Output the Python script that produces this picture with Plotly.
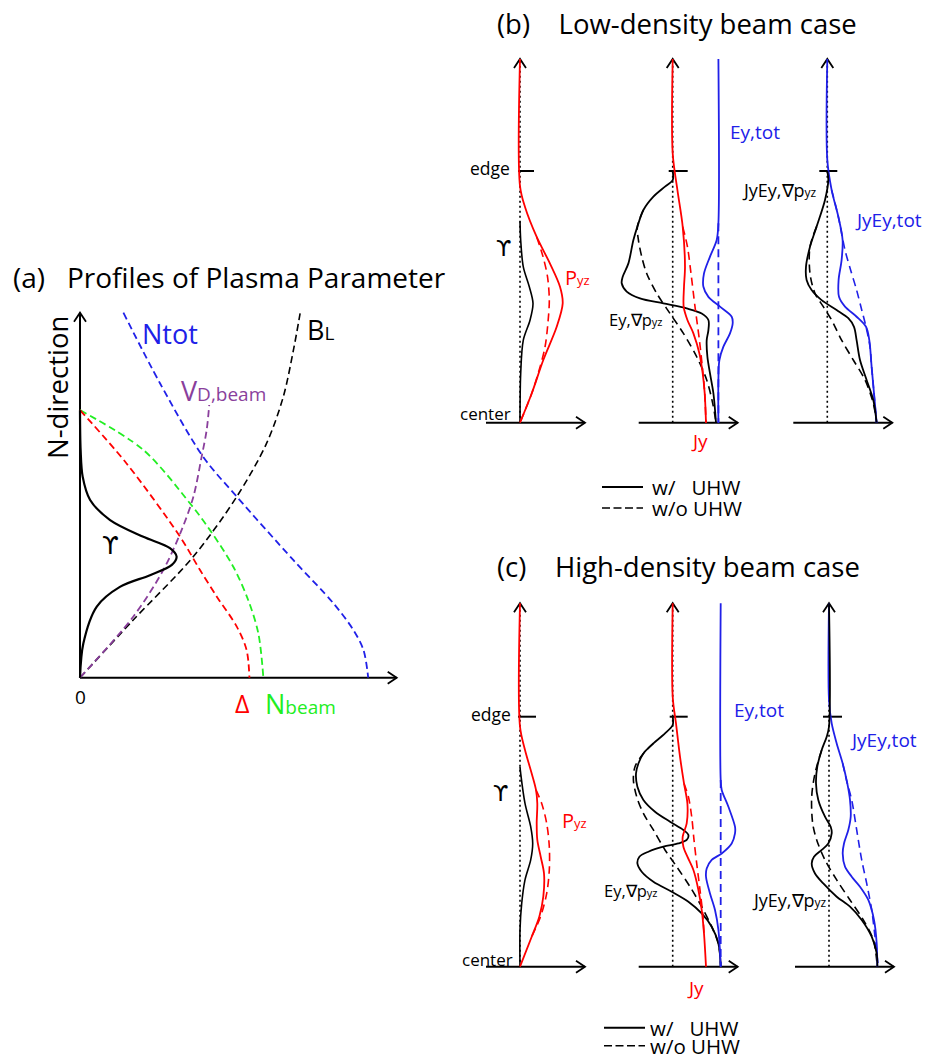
import plotly.graph_objects as go

W, H = 934, 1059
OFF = 8                      # page body margin of the browser
WF, HF = W - OFF, H - OFF    # figure size so that it fills the window
FONT = "Open Sans"
RED, BLUE, GREEN, PURPLE, BLACK = "#ff0000", "#2020e8", "#22ee22", "#8a3f9c", "#000000"

# ---------------- Panel (a): x = amplitude (arb., 0..100), y = N-direction (0..100)
A_NTOT_X = [13.7, 25.3, 38.9, 49.5, 67.4, 80.0, 86.3, 89.5, 91.0]
A_NTOT_Y = [100, 80.6, 60.5, 49.6, 32.2, 20.4, 13.1, 7.6, 0]
A_NBEAM_X = [0, 20.0, 34.7, 41.0, 48.4, 53.1, 56.3, 57.9]
A_NBEAM_Y = [73.3, 62.4, 47.8, 40.5, 30.4, 21.3, 12.2, 0]
A_DELTA_X = [0, 14.7, 31.6, 37.9, 43.2, 49.5, 52.6, 53.5]
A_DELTA_Y = [73.3, 58.7, 38.6, 29.5, 22.2, 14.0, 7.6, 0]
A_VD_X = [0, 16.8, 26.3, 32.1, 35.8, 38.4, 40.0, 40.8]
A_VD_Y = [0, 16.7, 29.5, 40.5, 49.6, 60.5, 67.9, 74.7]
A_BL_X = [0, 16.8, 35.8, 49.5, 58.9, 64.2, 67.4, 69.5]
A_BL_Y = [0, 15.8, 33.2, 49.6, 64.2, 77.0, 89.8, 99.8]
A_UPS_X = [0, 1.05, 5.3, 12.6, 22.1, 29.0, 30.5, 28.4, 20.0, 9.5, 3.2, 0.84, 0.2, 0]
A_UPS_Y = [0, 9.4, 19.5, 24.9, 28.1, 30.9, 33.2, 35.5, 38.6, 43.2, 48.7, 55.1, 62.4, 73.3]

# ---------------- Panels (b),(c): x = amplitude (arb.), y = position (0 = center, 1 = edge)
# (b) low-density, sub-panel 1
B1_PYZ_X = [0, 0, 5, 16.7, 30, 40, 42.7, 36.7, 23.3, 11.7, 0]
B1_PYZ_Y = [1.445, 0.94, 0.857, 0.738, 0.632, 0.54, 0.474, 0.381, 0.249, 0.116, 0]
B1_PYZ0_X = [16.7, 23, 27.5, 29.3, 28, 25, 18.5, 11.7, 0]
B1_PYZ0_Y = [0.738, 0.66, 0.58, 0.487, 0.4, 0.3, 0.2, 0.116, 0]
B1_UPS_X = [0, 0.7, 3.3, 9.3, 13, 10, 3.3, 0.7, 0]
B1_UPS_Y = [0.8, 0.725, 0.619, 0.54, 0.474, 0.407, 0.328, 0.196, 0]
# (b) sub-panel 2
B2_JY_X = [0, 0, 4.7, 10, 12.3, 11.3, 11, 14.7, 20.7, 26.7, 30, 32, 33.3]
B2_JY_Y = [1.445, 1.07, 0.925, 0.779, 0.62, 0.54, 0.46, 0.408, 0.355, 0.275, 0.196, 0.117, 0]
B2_JY0_X = [10, 14.7, 18.3, 22.3, 26.7, 30.3, 32, 33.3]
B2_JY0_Y = [0.779, 0.70, 0.593, 0.461, 0.328, 0.196, 0.117, 0]
B2_EP_X = [0, 0, -7.7, -19.3, -29.3, -35.3, -39.3, -44.3, -50, -51, -46, -32.7, -9.3, 14, 29, 35.7,
           35.7, 34, 34.7, 37.3, 40.7, 43.3]
B2_EP_Y = [1.0, 0.964, 0.938, 0.898, 0.845, 0.779, 0.726, 0.633, 0.58, 0.554, 0.521, 0.494, 0.474,
           0.454, 0.434, 0.408, 0.368, 0.328, 0.262, 0.196, 0.117, 0]
B2_EP0_X = [-29.3, -35.3, -34.3, -31, -26, -16, -2.7, 10.7, 24, 34, 40, 43.3]
B2_EP0_Y = [0.845, 0.779, 0.726, 0.66, 0.593, 0.514, 0.434, 0.355, 0.262, 0.17, 0.077, 0]
B2_ET_X = [45.7, 45.7, 44, 37.3, 31.3, 30.7, 35.7, 47.3, 59, 60, 57.3, 50.7, 46.7, 45.7, 45.7]
B2_ET_Y = [1.445, 0.792, 0.726, 0.66, 0.593, 0.54, 0.5, 0.461, 0.421, 0.395, 0.355, 0.302, 0.249, 0.17, 0]
B2_ET0_X = [45.7, 45.7]
B2_ET0_Y = [0.792, 0]
# (b) sub-panel 3
B3_JE_X = [0, 0, 4.3, 11, 15.3, 14.3, 11.3, 11.7, 17.7, 29.3, 38.7, 42, 44.3, 46.7, 49.3]
B3_JE_Y = [1.445, 1.044, 0.925, 0.819, 0.726, 0.646, 0.567, 0.5, 0.461, 0.421, 0.381, 0.328, 0.223, 0.117, 0]
B3_JE0_X = [4.3, 11, 17.7, 23.3, 29.3, 34.3, 38.7, 42.7, 44.3, 46.7, 49.3]
B3_JE0_Y = [0.925, 0.819, 0.686, 0.607, 0.527, 0.45, 0.381, 0.302, 0.223, 0.117, 0]
B3_JP_X = [0, 1, -2.3, -10.7, -17.3, -21.3, -20.7, -15.7, -5.7, 9.3, 21, 26.7, 29.3, 32.7, 39.3, 46, 49.3]
B3_JP_Y = [1.0, 0.964, 0.885, 0.779, 0.699, 0.62, 0.567, 0.527, 0.487, 0.448, 0.415, 0.381, 0.328,
           0.249, 0.17, 0.09, 0]
B3_JP0_X = [-10.7, -17.3, -17.3, -12.3, -4, 4.3, 14.3, 26, 37.7, 46, 49.3]
B3_JP0_Y = [0.779, 0.699, 0.593, 0.514, 0.461, 0.408, 0.328, 0.249, 0.17, 0.077, 0]

# (c) high-density, sub-panel 1
C1_PYZ_X = [0, 0, 5, 11.7, 16, 17.3, 16.7, 17.3, 20.7, 24, 23.3, 19.3, 11.7, 0]
C1_PYZ_Y = [1.454, 0.96, 0.867, 0.773, 0.707, 0.653, 0.573, 0.507, 0.44, 0.373, 0.28, 0.2, 0.12, 0]
C1_PYZ0_X = [16, 21.7, 26.7, 29.3, 29.3, 26.7, 20.5, 11.7]
C1_PYZ0_Y = [0.707, 0.653, 0.573, 0.48, 0.387, 0.293, 0.2, 0.12]
C1_UPS_X = [0, 0.7, 5, 10.7, 12.7, 10.7, 5, 1.7, 0, 0]
C1_UPS_Y = [0.8, 0.773, 0.653, 0.56, 0.493, 0.427, 0.347, 0.253, 0.147, 0]
# (c) sub-panel 2
C2_JY_X = [0, 0, 3.3, 7.3, 11.3, 14.7, 14, 10, 10.7, 14.7, 20.7, 25.7, 29, 31.3, 33.3]
C2_JY_Y = [1.454, 1.08, 0.973, 0.84, 0.733, 0.653, 0.573, 0.52, 0.48, 0.44, 0.387, 0.307, 0.227, 0.133, 0]
C2_JY0_X = [11.3, 15.7, 19, 21.3, 24, 27.3, 30, 31.3]
C2_JY0_Y = [0.733, 0.68, 0.6, 0.507, 0.413, 0.307, 0.213, 0.133]
C2_EP_X = [0, 0, -7.7, -19.3, -29.3, -34.3, -36.7, -35.3, -29.3, -17.7, -2.7, 10.7, 15.7, 14, 5.7,
           -9.3, -24.3, -33.3, -35.3, -31, -19.3, -1, 15.7, 29, 39, 45.7, 48]
C2_EP_Y = [1.0, 0.967, 0.933, 0.893, 0.853, 0.813, 0.773, 0.72, 0.667, 0.62, 0.58, 0.547, 0.527, 0.507,
           0.493, 0.48, 0.46, 0.44, 0.413, 0.38, 0.34, 0.3, 0.26, 0.213, 0.16, 0.093, 0]
C2_EP0_X = [-19.3, -29.3, -37.7, -39.3, -36, -29.3, -19.3, -7.7, 4, 17.3, 29, 39, 45.7, 48]
C2_EP0_Y = [0.893, 0.853, 0.8, 0.747, 0.68, 0.613, 0.547, 0.467, 0.4, 0.32, 0.24, 0.16, 0.093, 0]
C2_ET_X = [48, 48, 49, 55.7, 62.3, 62.3, 59, 49, 39, 34, 33.3, 37.3, 42.3, 45.7, 48]
C2_ET_Y = [1.454, 0.747, 0.707, 0.64, 0.56, 0.533, 0.493, 0.453, 0.427, 0.393, 0.36, 0.293, 0.227, 0.147, 0]
C2_ET0_X = [48, 48]
C2_ET0_Y = [0.747, 0]
# (c) sub-panel 3
C3_JE_X = [0, 0, 2.7, 7.7, 13.7, 18.3, 21, 21.7, 19.3, 15, 13.7, 16, 22.7, 31, 39.3, 45, 47.7, 48.3]
C3_JE_Y = [1.454, 1.067, 0.973, 0.893, 0.813, 0.733, 0.667, 0.6, 0.547, 0.493, 0.453, 0.4, 0.36, 0.32,
           0.267, 0.187, 0.093, 0]
C3_JE0_X = [13.7, 18.3, 22.7, 27.7, 32.7, 37.7, 42.7, 46, 49.3]
C3_JE0_Y = [0.813, 0.733, 0.667, 0.547, 0.427, 0.333, 0.227, 0.12, 0]
C3_JP_X = [0, 0, -2.3, -7.3, -11.7, -13, -10.7, -4, 1.7, 2.7, -0.7, -7.3, -15, -17.3, -14, -5.7, 7.7,
           21, 32.7, 42.7, 47.7, 48.3]
C3_JP_Y = [1.454, 0.96, 0.92, 0.867, 0.8, 0.733, 0.667, 0.6, 0.56, 0.533, 0.493, 0.467, 0.44, 0.413,
           0.373, 0.333, 0.28, 0.24, 0.187, 0.12, 0.053, 0]
C3_JP0_X = [-7.3, -14, -17.3, -16.3, -12.3, -4, 7.7, 21, 34.3, 44.3, 48.3]
C3_JP0_Y = [0.867, 0.773, 0.68, 0.573, 0.507, 0.427, 0.347, 0.267, 0.187, 0.107, 0]

fig = go.Figure()
shapes = []
annotations = []


def px(x):
    return (x - OFF) / WF


def py(y):
    return 1 - (y - OFF) / HF


def make_axes(n, ox, oy, sx, sy, box):
    x0, x1, y0, y1 = box
    key = "" if n == 1 else str(n)
    fig.update_layout(**{
        "xaxis" + key: dict(domain=[max(0, px(x0)), min(1, px(x1))], range=[(x0 - ox) / sx, (x1 - ox) / sx],
                            visible=False, fixedrange=True, anchor="y" + key),
        "yaxis" + key: dict(domain=[max(0, py(y1)), min(1, py(y0))], range=[(oy - y1) / sy, (oy - y0) / sy],
                            visible=False, fixedrange=True, anchor="x" + key),
    })
    return "x" + key, "y" + key, sx, sy


def curve(ax, xs, ys, color, width=1.8, dash="solid"):
    fig.add_trace(go.Scatter(x=xs, y=ys, mode="lines", xaxis=ax[0], yaxis=ax[1],
                             line=dict(color=color, width=width, dash=dash, shape="spline", smoothing=0.9),
                             hoverinfo="skip", showlegend=False))


def axes_frame(ax, xlo, xhi, ytop, tick=None, dotted=True):
    xr, yr, sx, sy = ax
    shapes.append(dict(type="line", xref=xr, yref=yr, x0=xlo, x1=xhi, y0=0, y1=0,
                       line=dict(color=BLACK, width=2), layer="below"))
    shapes.append(dict(type="path", xref=xr, yref=yr, layer="below",
                       path=f"M {xhi - 9 / sx},{6 / sy} L {xhi},0 L {xhi - 9 / sx},{-6 / sy}",
                       line=dict(color=BLACK, width=1.8)))
    shapes.append(dict(type="line", xref=xr, yref=yr, x0=0, x1=0, y0=0, y1=ytop, layer="below",
                       line=dict(color=BLACK, width=1.6 if dotted else 2,
                                 dash="2px,3px" if dotted else "solid")))
    shapes.append(dict(type="path", xref=xr, yref=yr, layer="below",
                       path=f"M {-6 / sx},{ytop - 9 / sy} L 0,{ytop} L {6 / sx},{ytop - 9 / sy}",
                       line=dict(color=BLACK, width=1.8)))
    if tick:
        shapes.append(dict(type="line", xref=xr, yref=yr, x0=tick[0], x1=tick[1], y0=1, y1=1,
                           line=dict(color=BLACK, width=2), layer="below"))


def text(x, y, s, size, color=BLACK, xanchor="center", angle=0, family=FONT):
    annotations.append(dict(x=px(x), y=py(y), xref="paper", yref="paper", text=s, showarrow=False,
                            xanchor=xanchor, yanchor="middle", textangle=angle,
                            font=dict(family=family, size=size, color=color)))


def small(s, size):
    return f"<span style='font-size:{size}px'>{s}</span>"


UPS_FONT = "DejaVu Sans"

# ---------------- Panel (a)
axA = make_axes(1, 80, 677.7, 3.167, 3.65, (30, 420, 300, 700))
axes_frame(axA, 0, 100, 100, dotted=False)
DA = "7px,4px"
curve(axA, A_NTOT_X, A_NTOT_Y, BLUE, 1.8, DA)
curve(axA, A_NBEAM_X, A_NBEAM_Y, GREEN, 1.8, DA)
curve(axA, A_DELTA_X, A_DELTA_Y, RED, 1.8, DA)
curve(axA, A_BL_X, A_BL_Y, BLACK, 1.6, DA)
curve(axA, A_VD_X, A_VD_Y, PURPLE, 1.8, DA)
curve(axA, A_UPS_X, A_UPS_Y, BLACK, 2.2)

text(11, 277, "(a)   Profiles of Plasma Parameter", 28, xanchor="left")
text(57, 388, "N-direction", 27.5, angle=-90)
text(170, 334, "Ntot", 27, BLUE)
text(320, 330, "B" + small("L", 19), 27)
text(223, 391, "V" + small("D,beam", 19), 27, PURPLE)
text(110, 546, "ϒ", 24, family=UPS_FONT)
text(80, 697, "0", 19)
text(242, 703, "Δ", 25, RED)
text(300, 703, "N" + small("beam", 19), 27, GREEN)

# ---------------- Panels (b) and (c)
DB = "8px,5px"
rows = [
    dict(oy=422.7, sy=251.7, top=1.445, box=(50, 432), oxs=(520, 672.7, 827.3),
         ticks=((-2, 14), (-4, 15), (-8, 10)),
         d=dict(P=(B1_PYZ_X, B1_PYZ_Y), P0=(B1_PYZ0_X, B1_PYZ0_Y), U=(B1_UPS_X, B1_UPS_Y),
                J=(B2_JY_X, B2_JY_Y), J0=(B2_JY0_X, B2_JY0_Y), E=(B2_EP_X, B2_EP_Y), E0=(B2_EP0_X, B2_EP0_Y),
                T=(B2_ET_X, B2_ET_Y), T0=(B2_ET0_X, B2_ET0_Y), JE=(B3_JE_X, B3_JE_Y), JE0=(B3_JE0_X, B3_JE0_Y),
                JP=(B3_JP_X, B3_JP_Y), JP0=(B3_JP0_X, B3_JP0_Y))),
    dict(oy=966.7, sy=250.0, top=1.454, box=(595, 975), oxs=(520, 672.7, 829),
         ticks=((-2, 16), (-3, 15), (-6, 13)),
         d=dict(P=(C1_PYZ_X, C1_PYZ_Y), P0=(C1_PYZ0_X, C1_PYZ0_Y), U=(C1_UPS_X, C1_UPS_Y),
                J=(C2_JY_X, C2_JY_Y), J0=(C2_JY0_X, C2_JY0_Y), E=(C2_EP_X, C2_EP_Y), E0=(C2_EP0_X, C2_EP0_Y),
                T=(C2_ET_X, C2_ET_Y), T0=(C2_ET0_X, C2_ET0_Y), JE=(C3_JE_X, C3_JE_Y), JE0=(C3_JE0_X, C3_JE0_Y),
                JP=(C3_JP_X, C3_JP_Y), JP0=(C3_JP0_X, C3_JP0_Y))),
]
xboxes = [(458, 618), (618, 786), (786, 934)]
n = 2
for r in rows:
    axs = []
    for k in range(3):
        ax = make_axes(n, r["oxs"][k], r["oy"], 1.0, r["sy"],
                       (xboxes[k][0], xboxes[k][1], r["box"][0], r["box"][1]))
        axes_frame(ax, -34, 65, r["top"], tick=r["ticks"][k])
        axs.append(ax)
        n += 1
    d = r["d"]
    a1, a2, a3 = axs
    curve(a1, *d["U"], BLACK, 1.6)
    curve(a1, *d["P0"], RED, 1.6, DB)
    curve(a1, *d["P"], RED, 1.8)
    curve(a2, *d["E0"], BLACK, 1.6, DB)
    curve(a2, *d["E"], BLACK, 1.8)
    curve(a2, *d["J0"], RED, 1.6, DB)
    curve(a2, *d["J"], RED, 1.8)
    curve(a2, *d["T0"], BLUE, 1.8, DB)
    curve(a2, *d["T"], BLUE, 1.8)
    curve(a3, *d["JP0"], BLACK, 1.6, DB)
    curve(a3, *d["JE0"], BLUE, 1.6, DB)
    curve(a3, *d["JE"], BLUE, 1.8)
    curve(a3, *d["JP"], BLACK, 1.8)

SUB = 12
TS = 27.5
# (b) labels
text(495, 24, "(b)    Low-density beam case", TS, xanchor="left")
text(512, 168, "edge", 17.5, xanchor="right")
text(513, 413, "center", 17, xanchor="right")
text(503, 249, "ϒ", 22, family=UPS_FONT)
text(563, 277, "P" + small("yz", 13), 20, RED, xanchor="left")
text(607, 320, "Ey,∇p" + small("yz", 11), 16.5, xanchor="left")
text(728, 132, "Ey,tot", 19, BLUE, xanchor="left")
text(699, 441, "Jy", 19, RED)
text(740, 190, "JyEy,∇p" + small("yz", SUB), 18, xanchor="left")
text(853, 220, "JyEy,tot", 19, BLUE, xanchor="left")
# (c) labels
text(495, 566, "(c)    High-density beam case", TS, xanchor="left")
text(513, 714, "edge", 17.5, xanchor="right")
text(515, 959, "center", 17, xanchor="right")
text(500, 793, "ϒ", 22, family=UPS_FONT)
text(560, 820, "P" + small("yz", 13), 20, RED, xanchor="left")
text(602, 890, "Ey,∇p" + small("yz", 11), 16.5, xanchor="left")
text(732, 710, "Ey,tot", 19, BLUE, xanchor="left")
text(695, 988, "Jy", 19, RED)
text(750, 900, "JyEy,∇p" + small("yz", SUB), 18, xanchor="left")
text(848, 740, "JyEy,tot", 19, BLUE, xanchor="left")

# legends
for (lx0, lx1, ys, ty) in [(602, 643, (487, 508), 650), (604, 645, (1027.7, 1045.7), 648)]:
    shapes.append(dict(type="line", xref="paper", yref="paper", x0=px(lx0), x1=px(lx1),
                       y0=py(ys[0]), y1=py(ys[0]), line=dict(color=BLACK, width=2)))
    shapes.append(dict(type="line", xref="paper", yref="paper", x0=px(lx0), x1=px(lx1),
                       y0=py(ys[1]), y1=py(ys[1]), line=dict(color=BLACK, width=1.5, dash="8px,3.5px")))
    text(ty, ys[0], "w/   UHW", 20.5, xanchor="left")
    text(ty, ys[1], "w/o UHW", 20.5, xanchor="left")

fig.update_layout(width=WF, height=HF, margin=dict(l=0, r=0, t=0, b=0),
                  paper_bgcolor="white", plot_bgcolor="rgba(0,0,0,0)",
                  shapes=shapes, annotations=annotations, showlegend=False,
                  font=dict(family=FONT))
fig.write_html("out.html")
